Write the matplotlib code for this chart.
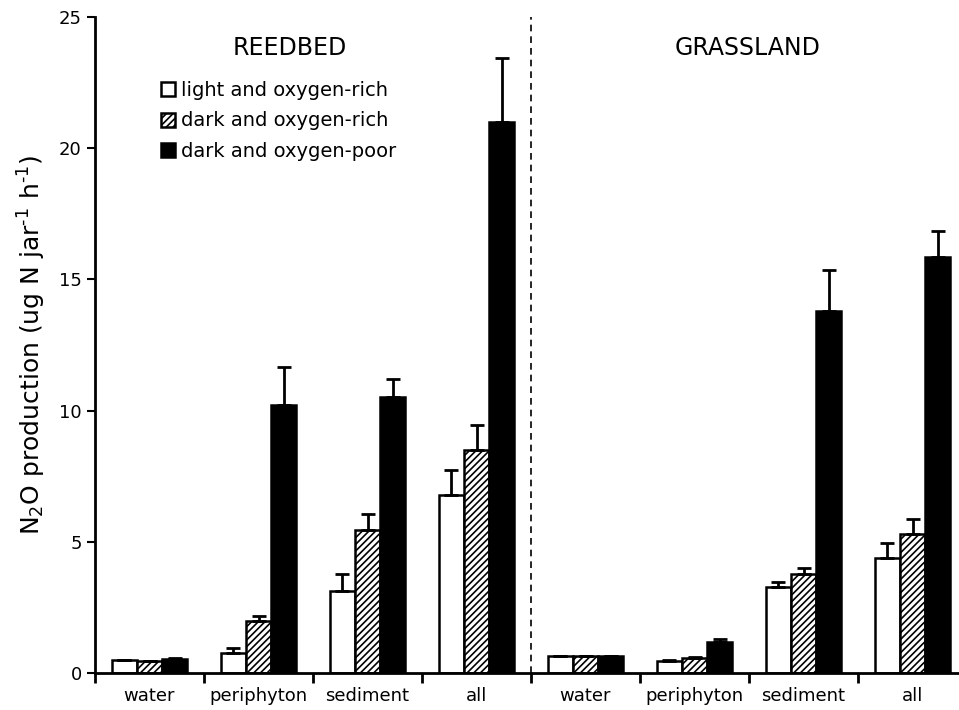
import numpy as np
import matplotlib
matplotlib.use("Agg")
import matplotlib.pyplot as plt
from matplotlib.patches import Patch

plt.rcParams['font.family'] = ['DejaVu Sans']
plt.rcParams['mathtext.default'] = 'regular'
plt.rcParams['hatch.linewidth'] = 1.2

# data (two sites x four compartments)
categories = ["water", "periphyton", "sediment", "all",
              "water", "periphyton", "sediment", "all"]
sites = ["REEDBED", "GRASSLAND"]
series_names = ["light and oxygen-rich", "dark and oxygen-rich", "dark and oxygen-poor"]

light_rich = [0.48, 0.77, 3.14, 6.8, 0.65, 0.46, 3.29, 4.4]
light_rich_err = [0.03, 0.18, 0.63, 0.95, 0.0, 0.04, 0.19, 0.55]
dark_rich = [0.44, 1.98, 5.45, 8.5, 0.65, 0.57, 3.77, 5.3]
dark_rich_err = [0.03, 0.19, 0.6, 0.95, 0.0, 0.04, 0.22, 0.55]
dark_poor = [0.55, 10.2, 10.5, 21.0, 0.65, 1.17, 13.8, 15.85]
dark_poor_err = [0.03, 1.45, 0.7, 2.45, 0.0, 0.11, 1.55, 1.0]

values = [light_rich, dark_rich, dark_poor]
errors = [light_rich_err, dark_rich_err, dark_poor_err]
faces = ["white", "white", "black"]
hatches = [None, "/////", None]

fig = plt.figure(figsize=(9.59, 7.10), dpi=100)
ax = fig.add_axes([95 / 959, 37 / 710, 864 / 959, 656 / 710])

x = np.arange(len(categories)) + 0.5
w = 0.23
for i in range(3):
    pos = x + (i - 1) * w
    ax.bar(pos, values[i], width=w, color=faces[i], edgecolor="black",
           linewidth=1.8, hatch=hatches[i], zorder=2)
    ax.errorbar(pos, values[i], yerr=[np.zeros(len(x)), errors[i]], fmt="none",
                ecolor="black", elinewidth=2, capsize=5, capthick=2, zorder=3)

# divider between the two sites
ax.axvline(4, color="black", linestyle=(0, (4, 3)), linewidth=1.2, zorder=1)

ax.set_xlim(0, 864 / 109)
ax.set_ylim(0, 25)
ax.set_yticks([0, 5, 10, 15, 20, 25])
ax.tick_params(axis="y", labelsize=13, length=6, width=1.5, direction="out")
ax.set_xticks(np.arange(0, 8))
ax.set_xticks(x, minor=True)
ax.set_xticklabels([])
ax.set_xticklabels(categories, minor=True)
ax.tick_params(axis="x", which="major", length=7, width=2, direction="out")
ax.tick_params(axis="x", which="minor", length=0, labelsize=13, pad=10)

for s in ["top", "right"]:
    ax.spines[s].set_visible(False)
ax.spines["left"].set_linewidth(2)
ax.spines["bottom"].set_linewidth(2)

ax.set_ylabel(r"N$_2$O production (ug N jar$^{\text{-1}}$ h$^{\text{-1}}$)", fontsize=18, labelpad=8)

ax.text(1.79, 23.8, sites[0], ha="center", va="center", fontsize=17)
ax.text(5.99, 23.8, sites[1], ha="center", va="center", fontsize=17)

handles = [Patch(facecolor=faces[i], edgecolor="black", hatch=hatches[i], linewidth=1.8)
           for i in range(3)]
ax.legend(handles, series_names, loc="upper left", bbox_to_anchor=(58 / 864, (673 - 73) / 656),
          frameon=False, fontsize=14, handlelength=0.75, handleheight=0.75,
          handletextpad=0.3, labelspacing=0.6, borderaxespad=0)

fig.savefig("out.png", dpi=100)
